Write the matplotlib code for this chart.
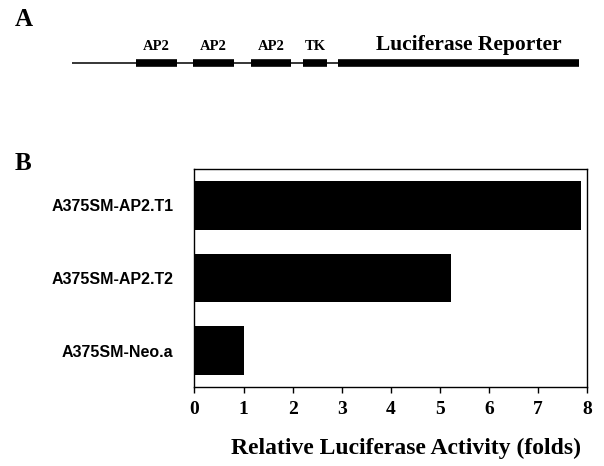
# %%
import matplotlib.pyplot as plt
import numpy as np

# Panel A: construct elements (start, end in diagram units)
elements = ['AP2', 'AP2', 'AP2', 'TK', 'Luciferase Reporter']
elem_start = [136, 193, 251, 303, 338]
elem_end = [177, 234, 291, 327, 579]
line_start, line_end = 72, 579

# Panel B: luciferase activity
samples = ['A375SM-AP2.T1', 'A375SM-AP2.T2', 'A375SM-Neo.a']
activity = [7.87, 5.23, 1.01]
xticks = [0, 1, 2, 3, 4, 5, 6, 7, 8]

serif = 'Liberation Serif'
sans = 'Liberation Sans'

fig = plt.figure(figsize=(6.04, 4.66), dpi=100)

# %% Panel A diagram
axa = fig.add_axes([0, 0, 1, 1])
axa.set_xlim(0, 604)
axa.set_ylim(466, 0)
axa.axis('off')
axa.plot([line_start, line_end], [63, 63], color='black', lw=1.1, solid_capstyle='butt')
for name, s, e in zip(elements, elem_start, elem_end):
    axa.plot([s, e], [63, 63], color='black', lw=5.5, solid_capstyle='butt')
    big = name.startswith('Luc')
    axa.text((s + e) / 2 + (10 if big else 0), 50, name, ha='center', va='baseline',
             family=serif, weight='bold', fontsize=15.5 if big else 10.5)

fig.text(0.025, 0.958, 'A', family=serif, weight='bold', fontsize=18, va='center', ha='left')
fig.text(0.025, 0.65, 'B', family=serif, weight='bold', fontsize=18, va='center', ha='left')

# %% Panel B bars
ax = fig.add_axes([0.322, 0.1695, 0.650, 0.4675])
ypos = np.arange(len(samples))
ax.barh(ypos, activity, height=0.67, color='black')
ax.set_ylim(2.5, -0.5)
ax.set_xlim(0, 8)
ax.set_xticks(xticks)
ax.set_xticklabels([str(t) for t in xticks], family=serif, weight='bold', fontsize=14)
ax.set_yticks(ypos)
ax.set_yticklabels(samples, family=sans, weight='bold', fontsize=11.5)
ax.tick_params(axis='y', length=0, pad=15)
ax.tick_params(axis='x', direction='out', length=4, width=1, pad=6)
for sp in ax.spines.values():
    sp.set_linewidth(1.0)
ax.set_xlabel('Relative Luciferase Activity (folds)', family=serif, weight='bold',
              fontsize=17)
ax.xaxis.set_label_coords(0.539, -0.235)

fig.savefig('out.png', dpi=100)
